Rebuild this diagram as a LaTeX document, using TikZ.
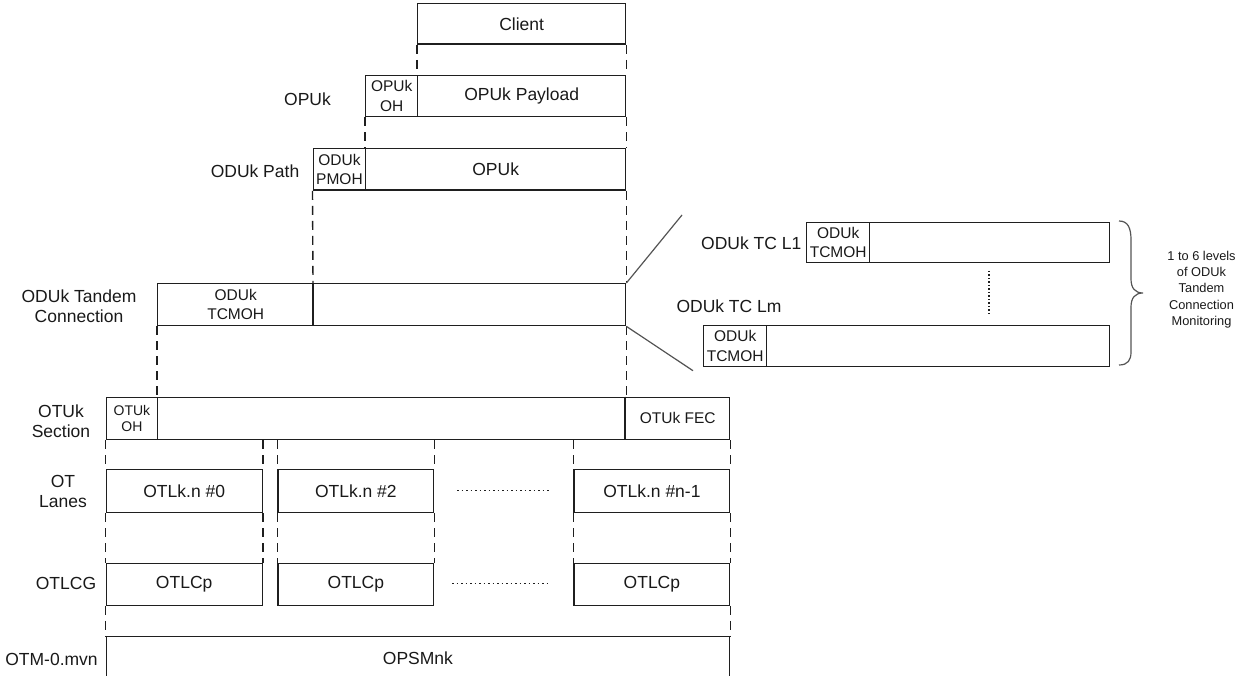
\documentclass[tikz,border=0pt]{standalone}
\usepackage{fontspec}
\setmainfont{Liberation Sans}
\newcommand\fsmain{\fontsize{17.5}{20}\selectfont}
\newcommand\fssmall{\fontsize{15.5}{19.5}\selectfont}
\newcommand\fstiny{\fontsize{14}{16}\selectfont}
\newcommand\fsnote{\fontsize{12.8}{16.3}\selectfont}
\definecolor{linec}{gray}{0.12}
\definecolor{txtc}{gray}{0.1}
\definecolor{slantc}{gray}{0.33}
\begin{document}
\begin{tikzpicture}[x=1pt,y=-1pt,
  box/.style={draw=linec, line width=1.4pt, inner sep=0pt, anchor=north west, font=\fsmain, text=txtc, align=center},
  ohbox/.style={box, font=\fssmall},
  lbl/.style={font=\fsmain, text=txtc, align=center, inner sep=0pt},
  guide/.style={draw=linec, line width=1.4pt, dash pattern=on 9pt off 6pt},
  thickdiv/.style={draw=linec, line width=2.8pt},
  slant/.style={draw=slantc, line width=1.2pt},
  dotrow/.style={draw=linec, line width=1.4pt, dash pattern=on 1.5pt off 3pt},
  dotcol/.style={draw=linec, line width=1.4pt, dash pattern=on 1.5pt off 2pt}]
\useasboundingbox (0,0) rectangle (1237,676);

% Client
\node[box, minimum width=208pt, minimum height=40.5pt] (client) at (417,3) {Client};
% OPUk
\node[ohbox, minimum width=52pt, minimum height=41.3pt] (opukoh) at (365,74.7) {OPUk\\OH};
\node[box, minimum width=208pt, minimum height=41.3pt] (opukpl) at (417,74.7) {OPUk Payload};
\node[lbl] (lopuk) at (307.5,99) {OPUk};
% ODUk path
\node[ohbox, minimum width=52.5pt, minimum height=41.5pt] (pmoh) at (312.5,148) {ODUk\\PMOH};
\node[box, minimum width=260pt, minimum height=41.5pt] (pathopu) at (365,148) {OPUk};
\node[lbl] (lpath) at (255,171.5) {ODUk Path};
% ODUk TCM
\node[ohbox, minimum width=156pt, minimum height=42pt] (tcmoh) at (157,283) {ODUk\\TCMOH};
\node[box, minimum width=312pt, minimum height=42pt] (tcmrest) at (313,283) {};
\node[lbl] (ltcm) at (79,306) {ODUk Tandem\\Connection};
% TC L1 and Lm
\node[ohbox, minimum width=63pt, minimum height=40pt] (l1oh) at (806,221.7) {ODUk\\TCMOH};
\node[box, minimum width=240pt, minimum height=40pt] (l1rest) at (869,221.7) {};
\node[lbl, anchor=east] (ll1) at (801.5,243) {ODUk TC L1};
\node[ohbox, minimum width=63pt, minimum height=41pt] (lmoh) at (703,325) {ODUk\\TCMOH};
\node[box, minimum width=343pt, minimum height=41pt] (lmrest) at (766,325) {};
\node[lbl] (llm) at (729,306.5) {ODUk TC Lm};
\node[font=\fsnote, text=txtc, align=center, inner sep=0pt] (note) at (1201.5,289.5) {1 to 6 levels\\of ODUk\\Tandem\\Connection\\Monitoring};
% OTUk section
\node[box, font=\fstiny, minimum width=51.5pt, minimum height=42.2pt] (otuoh) at (105.5,396.5) {OTUk\\OH};
\node[box, minimum width=468pt, minimum height=42.2pt] (otumid) at (157,396.5) {};
\node[box, font=\fssmall, minimum width=104pt, minimum height=42.2pt] (otufec) at (625,396.5) {OTUk FEC};
\node[lbl] (lotu) at (61,421) {OTUk\\Section};
% OT lanes
\node[box, minimum width=156pt, minimum height=42.7pt] (lane0) at (105.5,469) {OTLk.n \#0};
\node[box, minimum width=155.7pt, minimum height=42.7pt] (lane2) at (277.3,469) {OTLk.n \#2};
\node[box, minimum width=155.6pt, minimum height=42.7pt] (lanen) at (573.4,469) {OTLk.n \#n-1};
\node[lbl] (llanes) at (63,491.5) {OT\\Lanes};
% OTLCG
\node[box, minimum width=156pt, minimum height=41.8pt] (lcg0) at (105.5,562.7) {OTLCp};
\node[box, minimum width=155.7pt, minimum height=41.8pt] (lcg2) at (277.3,562.7) {OTLCp};
\node[box, minimum width=155.6pt, minimum height=41.8pt] (lcgn) at (573.4,562.7) {OTLCp};
\node[lbl] (llcg) at (66,583) {OTLCG};
% OTM
\node[box, minimum width=623.5pt, minimum height=44pt] (opsm) at (105.5,636) {OPSMnk};
\node[lbl] (lotm) at (51.5,659) {OTM-0.mvn};

% thick dividers
\draw[thickdiv] (tcmrest.north west) -- (tcmrest.south west);
\draw[thickdiv] (otufec.north west) -- (otufec.south west);

% dashed guides
\draw[guide] (client.south west) -- (opukpl.north west);
\draw[guide] (client.south east) -- (opukpl.north east);
\draw[guide] (opukoh.south west) -- (pathopu.north west);
\draw[guide] (opukpl.south east) -- (pathopu.north east);
\draw[guide] (pmoh.south west) -- (tcmrest.north west);
\draw[guide] (pathopu.south east) -- (tcmrest.north east);
\draw[guide] (tcmoh.south west) -- (otumid.north west);
\draw[guide] (tcmrest.south east) -- (otumid.north east);
\foreach \n in {lane0,lane2,lanen}{
  \draw[guide] (\n.north west |- otuoh.south) -- (\n.north west);
  \draw[guide] (\n.north east |- otuoh.south) -- (\n.north east);
}
\draw[guide] (lane0.south west) -- (lcg0.north west);
\draw[guide] (lane0.south east) -- (lcg0.north east);
\draw[guide] (lane2.south west) -- (lcg2.north west);
\draw[guide] (lane2.south east) -- (lcg2.north east);
\draw[guide] (lanen.south west) -- (lcgn.north west);
\draw[guide] (lanen.south east) -- (lcgn.north east);
\draw[guide] (lcg0.south west) -- (opsm.north west);
\draw[guide] (lcgn.south east) -- (opsm.north east);

% slanted zoom lines
\coordinate (zu) at (682,215);
\coordinate (zd) at (693,370.7);
\draw[slant] (tcmrest.north east) -- (zu);
\draw[slant] (tcmrest.south east) -- (zd);

% dotted ellipses
\coordinate (da1) at (457,490.5);
\coordinate (da2) at (550,490.5);
\coordinate (db1) at (452,583.5);
\coordinate (db2) at (550,583.5);
\coordinate (dc1) at (989,271);
\coordinate (dc2) at (989,316);
\draw[dotrow] (da1) -- (da2);
\draw[dotrow] (db1) -- (db2);
\draw[dotcol] (dc1) -- (dc2);

% brace
\draw[slant] (1119,221) .. controls (1128,221) and (1131,228) .. (1131,240)
  -- (1131,279) .. controls (1131,288) and (1135,293) .. (1143,293)
  .. controls (1135,293) and (1131,298) .. (1131,307)
  -- (1131,352) .. controls (1131,360) and (1128,365) .. (1119,365);
\end{tikzpicture}
\end{document}
